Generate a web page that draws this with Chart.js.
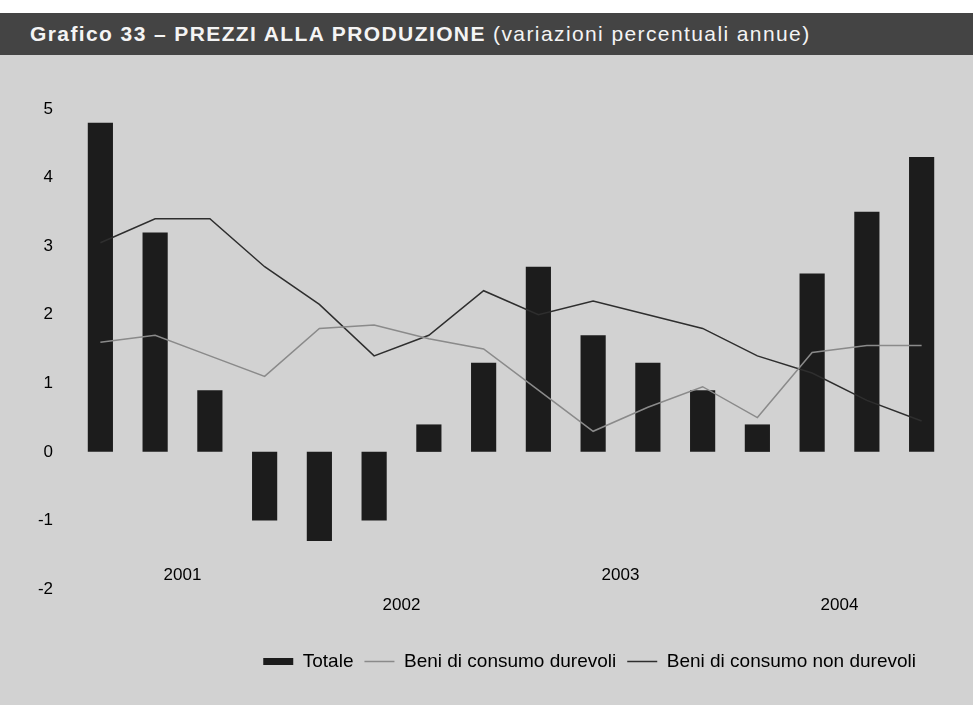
<!DOCTYPE html>
<html lang="it">
<head>
<meta charset="utf-8">
<title>Grafico 33 – Prezzi alla produzione</title>
<script src="https://cdn.jsdelivr.net/npm/chart.js@4.4.1/dist/chart.umd.min.js"></script>
<style>
  html, body { margin: 0; padding: 0; background: #fff; }
  body { width: 973px; height: 705px; overflow: hidden; position: relative; font-family: "Liberation Sans", Arial, sans-serif; }
  #header { position: absolute; top: 13px; left: 0; width: 973px; height: 42px; background: #444; color: #f4f4f4; font-size: 21px; letter-spacing: 1.4px; line-height: 42px; white-space: nowrap; }
  #header .bold { padding-left: 30px; font-weight: bold; }
  #panel { position: absolute; top: 55px; left: 0; width: 973px; height: 650px; background: #d2d2d2; }
  #panel canvas { display: block; }
</style>
</head>
<body>
<div id="header"><span class="bold">Grafico 33 – PREZZI ALLA PRODUZIONE</span> (variazioni percentuali annue)</div>
<div id="panel"><canvas id="prezziChart" width="973" height="650"></canvas></div>
<script>
// --- dati trimestrali 2001-2004 ---
const quarters = [
  '2001 T1', '2001 T2', '2001 T3', '2001 T4',
  '2002 T1', '2002 T2', '2002 T3', '2002 T4',
  '2003 T1', '2003 T2', '2003 T3', '2003 T4',
  '2004 T1', '2004 T2', '2004 T3', '2004 T4'
];
const years = ['2001', '2002', '2003', '2004'];
const totale = [4.8, 3.2, 0.9, -1.0, -1.3, -1.0, 0.4, 1.3, 2.7, 1.7, 1.3, 0.9, 0.4, 2.6, 3.5, 4.3];
const durevoli = [1.6, 1.7, 1.4, 1.1, 1.8, 1.85, 1.65, 1.5, 0.9, 0.3, 0.65, 0.95, 0.5, 1.45, 1.55, 1.55];
const nonDurevoli = [3.05, 3.4, 3.4, 2.7, 2.15, 1.4, 1.7, 2.35, 2.0, 2.2, 2.0, 1.8, 1.4, 1.15, 0.75, 0.45];
const yMin = -2;
const yMax = 5;

Chart.defaults.font.family = '"Liberation Sans", Arial, sans-serif';
Chart.defaults.color = '#000';

// anni centrati sotto i quattro trimestri, alternati su due righe
const yearLabels = {
  id: 'yearLabels',
  afterDatasetsDraw(chart) {
    const { ctx, scales: { x, y } } = chart;
    ctx.save();
    ctx.font = '17px "Liberation Sans", Arial, sans-serif';
    ctx.fillStyle = '#000';
    ctx.textAlign = 'center';
    ctx.textBaseline = 'middle';
    years.forEach((year, k) => {
      const px = x.getPixelForValue(k * 4 + 1.5);
      const py = y.getPixelForValue(yMin) + (k % 2 ? 16 : -14);
      ctx.fillText(year, px, py);
    });
    ctx.restore();
  }
};

// sposta la legenda un po' a sinistra rispetto al bordo destro
const legendShift = {
  id: 'legendShift',
  afterLayout(chart) {
    chart.legend.left -= 22;
    chart.legend.right -= 22;
  }
};

const ctx = document.getElementById('prezziChart').getContext('2d');
new Chart(ctx, {
  type: 'bar',
  data: {
    labels: quarters,
    datasets: [
      {
        type: 'bar', label: 'Totale', data: totale,
        backgroundColor: '#1c1c1c', borderWidth: 0,
        barPercentage: 0.46, categoryPercentage: 1,
        pointStyle: 'rect', order: 2
      },
      {
        type: 'line', label: 'Beni di consumo durevoli', data: durevoli,
        borderColor: '#8a8a8a', backgroundColor: '#8a8a8a', borderWidth: 1.5,
        pointRadius: 0, tension: 0, pointStyle: 'line', order: 1
      },
      {
        type: 'line', label: 'Beni di consumo non durevoli', data: nonDurevoli,
        borderColor: '#2e2e2e', backgroundColor: '#2e2e2e', borderWidth: 1.5,
        pointRadius: 0, tension: 0, pointStyle: 'line', order: 1
      }
    ]
  },
  options: {
    responsive: false,
    animation: false,
    layout: { padding: { top: 54, right: 24, bottom: 24, left: 0 } },
    plugins: {
      legend: {
        position: 'bottom',
        align: 'end',
        labels: {
          usePointStyle: true, pointStyleWidth: 30, boxHeight: 7,
          padding: 11, color: '#000', font: { size: 19 },
          sort: (a, b) => a.datasetIndex - b.datasetIndex
        }
      },
      tooltip: { enabled: false }
    },
    scales: {
      x: {
        grid: { display: false }, border: { display: false },
        ticks: { display: false },
        afterFit: s => { s.height = 52; }
      },
      y: {
        min: yMin, max: yMax,
        ticks: { stepSize: 1, padding: 12, color: '#000', font: { size: 17 } },
        grid: { display: false }, border: { display: false },
        afterFit: s => { s.width = 73; }
      }
    }
  },
  plugins: [yearLabels, legendShift]
});
</script>
</body>
</html>
